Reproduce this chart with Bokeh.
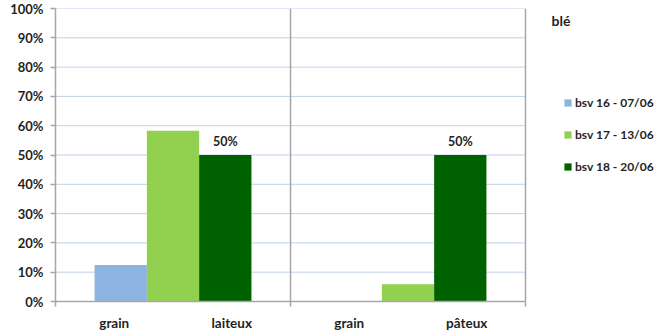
from bokeh.plotting import figure
from bokeh.models import (ColumnDataSource, FixedTicker, Legend, LegendItem,
                          Label, Span, NumeralTickFormatter, Range1d)
from bokeh.core.properties import value
from bokeh.embed import file_html
from bokeh.resources import INLINE

# Stage labels along the x axis (two stages per observation group)
stage_labels = ["grain", "laiteux", "grain", "pâteux"]

# Share of plots per bulletin, one value per group of two stages
series_names = ["bsv 16 - 07/06", "bsv 17 - 13/06", "bsv 18 - 20/06"]
bsv16 = [0.125, 0.0]
bsv17 = [0.583, 0.059]
bsv18 = [0.50, 0.50]

# Values shown as labels above the last bulletin's bars
bsv18_labels = ["50%", "50%"]

# Percent ticks on the y axis
y_ticks = [i / 10 for i in range(11)]

series_values = [bsv16, bsv17, bsv18]
colors = ["#8db3e2", "#92d050", "#006100"]

FONT = "Lato"
TEXT_COLOR = "#1f1f1f"
AXIS_COLOR = "#a6a6a6"
GRID_COLOR = "#7fa3d1"

n_groups = len(bsv16)
n_stages = len(stage_labels)

# One stage slot is 117.5 px wide; the frame runs on to the right edge so
# that the legend and crop name can sit beside the bars
slot_px = 117.5
left_px = 55
width, height = 664, 333
x_end = (width - left_px) / slot_px

p = figure(width=width, height=height, output_backend="svg", toolbar_location=None,
           x_range=Range1d(0, x_end), y_range=Range1d(0, 1),
           min_border_left=left_px, min_border_right=0, min_border_top=8, min_border_bottom=30)
p.outline_line_color = None
p.background_fill_color = "white"
p.border_fill_color = "white"

# Horizontal dotted grid limited to the bar area
p.xgrid.grid_line_color = None
p.ygrid.grid_line_color = None
p.segment(x0=[0] * len(y_ticks), x1=[n_stages] * len(y_ticks), y0=y_ticks, y1=y_ticks,
          line_color=GRID_COLOR, line_dash="1 1", line_width=1)

# Bars: each group spans two stage slots; the three bulletins are clustered on the group centre
bar_w = 0.445
group_centers = [2 * i + 1 for i in range(n_groups)]
items = []
for k, (name, vals, col) in enumerate(zip(series_names, series_values, colors)):
    xs = [c + (k - 1) * bar_w for c in group_centers]
    src = ColumnDataSource(dict(x=xs, top=vals))
    r = p.vbar(x="x", top="top", width=bar_w, bottom=0, source=src,
               fill_color=col, line_color=None)
    items.append(LegendItem(label=name, renderers=[r]))

# Value labels on the bsv 18 bars
lab_src = ColumnDataSource(dict(x=[c + bar_w for c in group_centers], y=bsv18, t=bsv18_labels))
p.text(x="x", y="y", text="t", source=lab_src, y_offset=-6,
       text_align="center", text_baseline="bottom",
       text_font=value(FONT), text_font_style="bold", text_font_size="12.5px",
       text_color=TEXT_COLOR)

# y axis in percent
p.yaxis.ticker = FixedTicker(ticks=y_ticks)
p.yaxis.formatter = NumeralTickFormatter(format="0%")
p.yaxis.axis_line_color = AXIS_COLOR
p.yaxis.axis_line_width = 1.5
p.yaxis.major_tick_line_color = AXIS_COLOR
p.yaxis.major_tick_line_width = 1.5
p.yaxis.major_tick_out = 5
p.yaxis.major_tick_in = 0
p.yaxis.minor_tick_line_color = None
p.yaxis.major_label_standoff = 7
p.yaxis.major_label_text_font = FONT
p.yaxis.major_label_text_font_style = "bold"
p.yaxis.major_label_text_font_size = "13px"
p.yaxis.major_label_text_color = TEXT_COLOR

# x axis: stage names in the middle of each slot, separators between groups
p.xaxis.bounds = (0, n_stages)
p.xaxis.ticker = FixedTicker(ticks=[i + 0.5 for i in range(n_stages)],
                             minor_ticks=[0] + [2 * (i + 1) for i in range(n_groups)])
p.xaxis.major_label_overrides = {i + 0.5: lab for i, lab in enumerate(stage_labels)}
p.xaxis.axis_line_color = AXIS_COLOR
p.xaxis.axis_line_width = 1.5
p.xaxis.major_tick_line_color = None
p.xaxis.major_tick_out = 0
p.xaxis.major_tick_in = 0
p.xaxis.minor_tick_line_color = AXIS_COLOR
p.xaxis.minor_tick_line_width = 1.5
p.xaxis.minor_tick_out = 5
p.xaxis.minor_tick_in = 0
p.xaxis.major_label_standoff = 8
p.xaxis.major_label_text_font = FONT
p.xaxis.major_label_text_font_style = "bold"
p.xaxis.major_label_text_font_size = "13.5px"
p.xaxis.major_label_text_color = TEXT_COLOR

# Separator between the groups and right-hand border of the bar area
for i in range(1, n_groups + 1):
    p.add_layout(Span(location=2 * i, dimension="height", line_color=AXIS_COLOR, line_width=1.5))

# Legend beside the bars
legend = Legend(items=items, location=(508, 125), orientation="vertical",
                glyph_width=9, glyph_height=9, label_height=20, spacing=12,
                padding=0, margin=0, border_line_color=None, background_fill_alpha=0,
                label_text_font=FONT, label_text_font_style="bold",
                label_text_font_size="12px", label_text_color=TEXT_COLOR,
                label_standoff=3)
p.add_layout(legend, "center")

# Crop name
p.add_layout(Label(x=(551 - left_px) / slot_px, y=0.96, text="blé", text_font=FONT,
                   text_font_style="bold", text_font_size="14px",
                   text_color=TEXT_COLOR, text_align="left", text_baseline="middle"))

open("out.html", "w").write(file_html(p, INLINE))
